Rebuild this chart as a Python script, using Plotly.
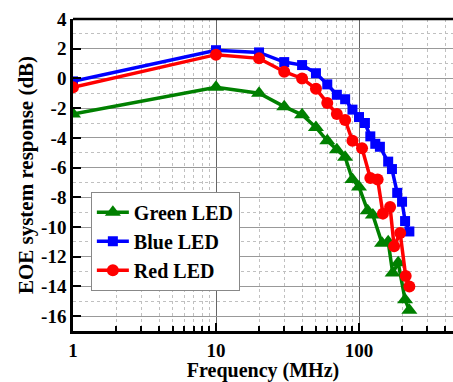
import plotly.graph_objects as go

# ---- data ----
green_f = [1, 10, 20, 30, 40, 50, 60, 70, 80, 90, 100, 115, 125, 145, 160, 172, 188, 210, 225]
green_v = [-2.4, -0.6, -1.0, -1.9, -2.45, -3.3, -4.2, -4.8, -5.3, -6.8, -7.3, -8.9, -9.2, -11.1, -11.0, -13.1, -12.4, -14.9, -15.6]

blue_f = [1, 10, 20, 30, 40, 50, 60, 70, 80, 90, 100, 110, 120, 130, 140, 160, 170, 185, 200, 210, 225]
blue_v = [-0.2, 1.9, 1.75, 1.1, 0.9, 0.35, -0.4, -1.1, -1.4, -2.1, -2.6, -3.0, -3.9, -4.4, -4.6, -5.6, -6.1, -7.7, -8.3, -9.6, -10.3]

red_f = [1, 10, 20, 30, 40, 50, 60, 70, 80, 90, 105, 120, 135, 147, 165, 176, 194, 212, 225]
red_v = [-0.6, 1.6, 1.35, 0.45, 0.0, -0.7, -1.65, -2.4, -2.8, -4.2, -4.7, -6.7, -6.8, -9.1, -8.65, -11.3, -10.4, -13.3, -14.0]

series_names = ["Green LED", "Blue LED", "Red LED"]
x_tick_vals = [1, 10, 100]
x_tick_text = ["1", "10", "100"]
x_minor_vals = [2, 3, 4, 5, 6, 7, 8, 9, 20, 30, 40, 50, 60, 70, 80, 90, 200, 300, 400]
y_tick_vals = [4, 2, 0, -2, -4, -6, -8, -10, -12, -14, -16]
y_tick_text = ["4", "2", "0", "-2", "-4", "-6", "-8", "-10", "-12", "-14", "-16"]
x_title = "Frequency (MHz)"
y_title = "EOE system response (dB)"

FONT = "Liberation Serif"

fig = go.Figure()
fig.add_trace(go.Scatter(x=green_f, y=green_v, name=series_names[0], mode="lines+markers",
                         line=dict(color="#008000", width=3.5),
                         marker=dict(symbol="triangle-up", size=14, color="#008000")))
fig.add_trace(go.Scatter(x=blue_f, y=blue_v, name=series_names[1], mode="lines+markers",
                         line=dict(color="#0000ff", width=3.5),
                         marker=dict(symbol="square", size=10, color="#0000ff")))
fig.add_trace(go.Scatter(x=red_f, y=red_v, name=series_names[2], mode="lines+markers",
                         line=dict(color="#ff0000", width=3.5),
                         marker=dict(symbol="circle", size=12, color="#ff0000")))

fig.update_layout(
    width=453, height=382,
    margin=dict(l=73, r=0, t=19, b=51),
    paper_bgcolor="white", plot_bgcolor="white",
    font=dict(family=FONT, size=18, color="black"),
    legend=dict(x=0.047, y=0.446, xanchor="left", yanchor="top",
                bgcolor="white", bordercolor="#888888", borderwidth=1,
                font=dict(family=FONT, size=20, color="black", weight="bold"),
                itemwidth=32, tracegroupgap=0),
    showlegend=True,
)

fig.update_xaxes(
    type="log", range=[0, (453 - 73) / 143],
    tickvals=x_tick_vals, ticktext=x_tick_text,
    ticks="inside", ticklen=8, tickwidth=2, tickcolor="black",
    showline=True, linewidth=2.5, linecolor="black",
    showgrid=True, gridcolor="#666666", gridwidth=1,
    minor=dict(tickvals=x_minor_vals, ticks="inside", ticklen=5, tickwidth=1.5, tickcolor="black",
               showgrid=True, gridcolor="#c0c0c0", griddash="dot", gridwidth=1),
    tickfont=dict(family=FONT, size=19, color="black", weight="bold"),
    title=dict(text=x_title, font=dict(family=FONT, size=20, color="black", weight="bold"), standoff=1),
    automargin=False,
    zeroline=False,
)
fig.update_yaxes(
    range=[-17, 4],
    tickvals=y_tick_vals, ticktext=y_tick_text,
    ticks="inside", ticklen=8, tickwidth=2, tickcolor="black",
    showline=True, linewidth=2.5, linecolor="black",
    showgrid=True, gridcolor="#999999", gridwidth=1,
    minor=dict(dtick=1, tick0=0, ticks="", showgrid=True, gridcolor="#c0c0c0", griddash="dot", gridwidth=1),
    tickfont=dict(family=FONT, size=19, color="black", weight="bold"),
    title=dict(text=y_title, font=dict(family=FONT, size=21, color="black", weight="bold"), standoff=2),
    automargin=False,
    zeroline=False,
)

fig.add_shape(type="line", xref="paper", yref="paper", x0=0, x1=1, y0=1, y1=1,
              line=dict(color="black", width=2.5))

fig.write_html("out.html", config={"displayModeBar": False},
               post_script="document.body.style.margin='0';")
